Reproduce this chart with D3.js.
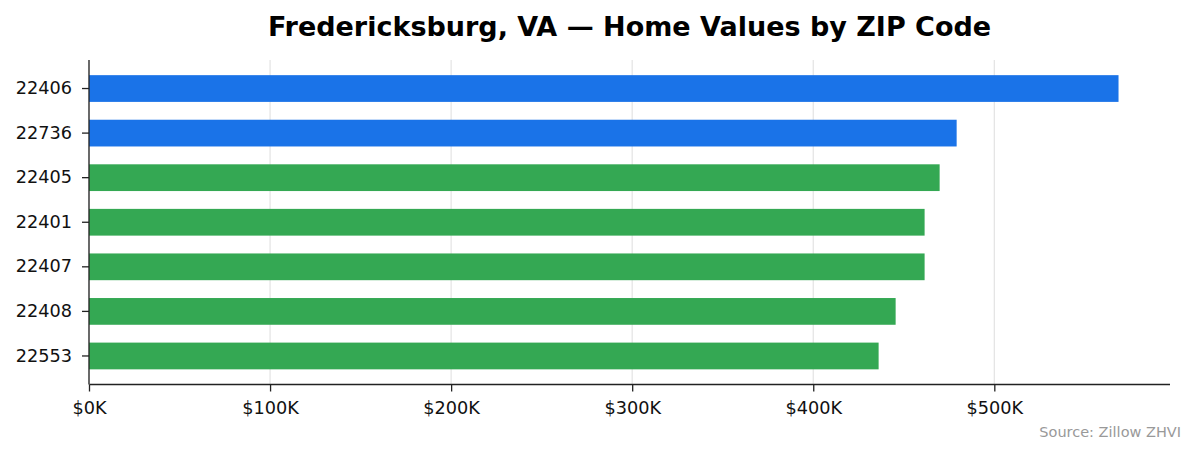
<!DOCTYPE html>
<html>
<head>
<meta charset="utf-8">
<script src="https://cdn.jsdelivr.net/npm/d3@7"></script>
<style>
  html, body { margin: 0; padding: 0; background: #fff; }
  svg { display: block; font-family: "DejaVu Sans", sans-serif; }
</style>
</head>
<body>
<div id="chart"></div>
<script>
// ZIP codes, top to bottom
const zips = ['22406', '22736', '22405', '22401', '22407', '22408', '22553'];
// Zillow home value index, dollars
const homeValues = [568600, 479200, 469800, 461500, 461500, 445500, 436100];
// highlighted (blue) vs. the rest (green)
const highlighted = ['22406', '22736'];
const xTicks = [0, 100000, 200000, 300000, 400000, 500000];

const width = 1195;
const height = 455;
const margin = { top: 60, right: 25, bottom: 70.5, left: 89 };

const svg = d3.select('#chart')
    .append('svg')
    .attr('width', width)
    .attr('height', height);

const innerW = width - margin.left - margin.right;
const innerH = height - margin.top - margin.bottom;

const x = d3.scaleLinear()
    .domain([0, d3.max(homeValues) * 1.05])
    .range([0, innerW]);

const y = d3.scaleBand()
    .domain(zips)
    .range([0, innerH])
    .paddingInner(0.4)
    .paddingOuter(0.34);

const g = svg.append('g')
    .attr('transform', `translate(${margin.left}, ${margin.top})`);

// vertical grid
g.append('g')
    .selectAll('line')
    .data(xTicks)
    .enter()
    .append('line')
    .attr('x1', (d) => x(d))
    .attr('x2', (d) => x(d))
    .attr('y1', 0)
    .attr('y2', innerH)
    .attr('stroke', '#e3e3e3')
    .attr('stroke-width', 1.2);

g.append('g')
    .selectAll('rect')
    .data(zips)
    .enter()
    .append('rect')
    .attr('x', 0)
    .attr('y', (d) => y(d))
    .attr('width', (d, i) => x(homeValues[i]))
    .attr('height', y.bandwidth())
    .attr('fill', (d) => highlighted.includes(d) ? '#1a73e8' : '#34a853');

const xAxis = g.append('g')
    .attr('transform', `translate(0, ${innerH})`)
    .call(d3.axisBottom(x)
        .tickValues(xTicks)
        .tickSize(7)
        .tickPadding(10)
        .tickFormat((d) => `$${d / 1000}K`));

const yAxis = g.append('g')
    .call(d3.axisLeft(y)
        .tickSize(7)
        .tickPadding(10));

[xAxis, yAxis].forEach((axis) => {
    axis.selectAll('path.domain')
        .attr('stroke', '#222')
        .attr('stroke-width', 1.3);
    axis.selectAll('.tick line')
        .attr('stroke', '#222')
        .attr('stroke-width', 1.3);
    axis.selectAll('.tick text')
        .attr('fill', '#111')
        .style('font-size', '17.7px')
        .style('font-family', '"DejaVu Sans", sans-serif');
});

// strip the outer tick caps so the spines end flush
xAxis.select('path.domain').attr('d', `M0.5,0H${innerW}`);
yAxis.select('path.domain').attr('d', `M0,0V${innerH}`);

svg.append('text')
    .attr('x', margin.left + innerW / 2)
    .attr('y', 36)
    .attr('text-anchor', 'middle')
    .style('font-size', '27px')
    .style('font-weight', 'bold')
    .attr('fill', '#000')
    .text('Fredericksburg, VA — Home Values by ZIP Code');

svg.append('text')
    .attr('x', 1181)
    .attr('y', 437)
    .attr('text-anchor', 'end')
    .style('font-size', '14.5px')
    .attr('fill', '#999')
    .text('Source: Zillow ZHVI');
</script>
</body>
</html>
